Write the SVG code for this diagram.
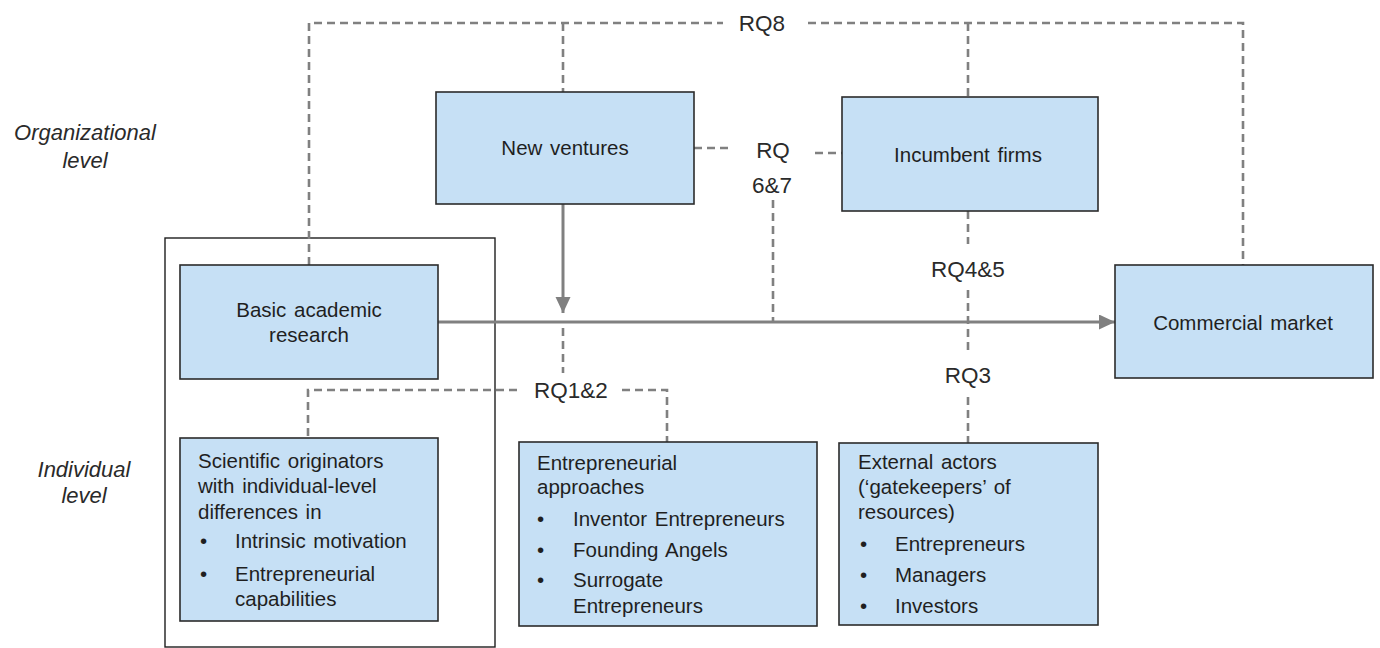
<svg xmlns="http://www.w3.org/2000/svg" width="1380" height="648" viewBox="0 0 1380 648">
<defs>
<style>
.box{fill:#c6e0f5;stroke:#2b2b2b;stroke-width:1.6}
.frame{fill:#ffffff;stroke:#1e1e1e;stroke-width:1.4}
.t{font-family:"Liberation Sans",Arial,sans-serif;font-size:20.5px;fill:#1f1f1f;word-spacing:2px}
.c{text-anchor:middle}
.rq{font-family:"Liberation Sans",Arial,sans-serif;font-size:22.5px;fill:#2a2a2a;text-anchor:middle}
.lvl{font-family:"Liberation Sans",Arial,sans-serif;font-size:22px;font-style:italic;fill:#2a2a2a;text-anchor:middle}
.dash{fill:none;stroke:#808080;stroke-width:2.6;stroke-dasharray:8 5}
.solid{fill:none;stroke:#808080;stroke-width:3}
</style>
<marker id="arr" markerUnits="userSpaceOnUse" markerWidth="17" markerHeight="16" refX="16" refY="7.5" orient="auto">
<path d="M0,0 L16,7.5 L0,15 z" fill="#808080"/>
</marker>
</defs>
<rect width="1380" height="648" fill="#ffffff"/>

<g id="levels">
<text class="lvl" x="85" y="140">Organizational</text>
<text class="lvl" x="85" y="168">level</text>
<text class="lvl" x="84" y="477">Individual</text>
<text class="lvl" x="84" y="503">level</text>
</g>

<g id="individual-frame">
<rect class="frame" x="165" y="238" width="330" height="409"/>
</g>

<g id="connectors">
<path class="dash" d="M309,265 V23 H723"/>
<path class="dash" d="M808,23 H1243 V265"/>
<path class="dash" d="M563,23 V92"/>
<path class="dash" d="M968,23 V97"/>
<path class="dash" d="M694,148 H733"/>
<path class="dash" d="M815,153 H842"/>
<path class="dash" d="M773,200 V322"/>
<path class="solid" d="M438,322 H1115" marker-end="url(#arr)"/>
<path class="solid" d="M563,204 V313" marker-end="url(#arr)"/>
<path class="dash" d="M563,328 V373"/>
<path class="dash" d="M517,390 H308 V438"/>
<path class="dash" d="M622,390 H667 V442"/>
<path class="dash" d="M968,211 V244"/>
<path class="dash" d="M968,290 V353"/>
<path class="dash" d="M968,397 V443"/>
<text class="rq" x="762" y="31">RQ8</text>
<text class="rq" x="773" y="158">RQ</text>
<text class="rq" x="772" y="193">6&amp;7</text>
<text class="rq" x="968" y="277">RQ4&amp;5</text>
<text class="rq" x="968" y="383">RQ3</text>
<text class="rq" x="571" y="398">RQ1&amp;2</text>
</g>

<g id="new-ventures">
<rect class="box" x="436" y="92" width="258" height="112"/>
<text class="t c" x="565" y="155">New ventures</text>
</g>

<g id="incumbent-firms">
<rect class="box" x="842" y="97" width="256" height="114"/>
<text class="t c" x="968" y="162">Incumbent firms</text>
</g>

<g id="commercial-market">
<rect class="box" x="1115" y="265" width="258" height="113"/>
<text class="t c" x="1243" y="330">Commercial market</text>
</g>

<g id="basic-research">
<rect class="box" x="180" y="265" width="258" height="114"/>
<text class="t c" x="309" y="317">Basic academic</text>
<text class="t c" x="309" y="342">research</text>
</g>

<g id="scientific-originators">
<rect class="box" x="180" y="438" width="258" height="183"/>
<text class="t" x="198" y="468">Scientific originators</text>
<text class="t" x="198" y="493">with individual-level</text>
<text class="t" x="198" y="519">differences in</text>
<text class="t" x="200" y="548">•</text>
<text class="t" x="235" y="548">Intrinsic motivation</text>
<text class="t" x="200" y="581">•</text>
<text class="t" x="235" y="581">Entrepreneurial</text>
<text class="t" x="235" y="606">capabilities</text>
</g>

<g id="entrepreneurial-approaches">
<rect class="box" x="519" y="442" width="298" height="184"/>
<text class="t" x="537" y="470">Entrepreneurial</text>
<text class="t" x="537" y="494">approaches</text>
<text class="t" x="537" y="526">•</text>
<text class="t" x="573" y="526">Inventor Entrepreneurs</text>
<text class="t" x="537" y="557">•</text>
<text class="t" x="573" y="557">Founding Angels</text>
<text class="t" x="537" y="587">•</text>
<text class="t" x="573" y="587">Surrogate</text>
<text class="t" x="573" y="613">Entrepreneurs</text>
</g>

<g id="external-actors">
<rect class="box" x="839" y="443" width="259" height="182"/>
<text class="t" x="858" y="469">External actors</text>
<text class="t" x="858" y="494">(‘gatekeepers’ of</text>
<text class="t" x="858" y="519">resources)</text>
<text class="t" x="860" y="551">•</text>
<text class="t" x="895" y="551">Entrepreneurs</text>
<text class="t" x="860" y="582">•</text>
<text class="t" x="895" y="582">Managers</text>
<text class="t" x="860" y="613">•</text>
<text class="t" x="895" y="613">Investors</text>
</g>
</svg>
